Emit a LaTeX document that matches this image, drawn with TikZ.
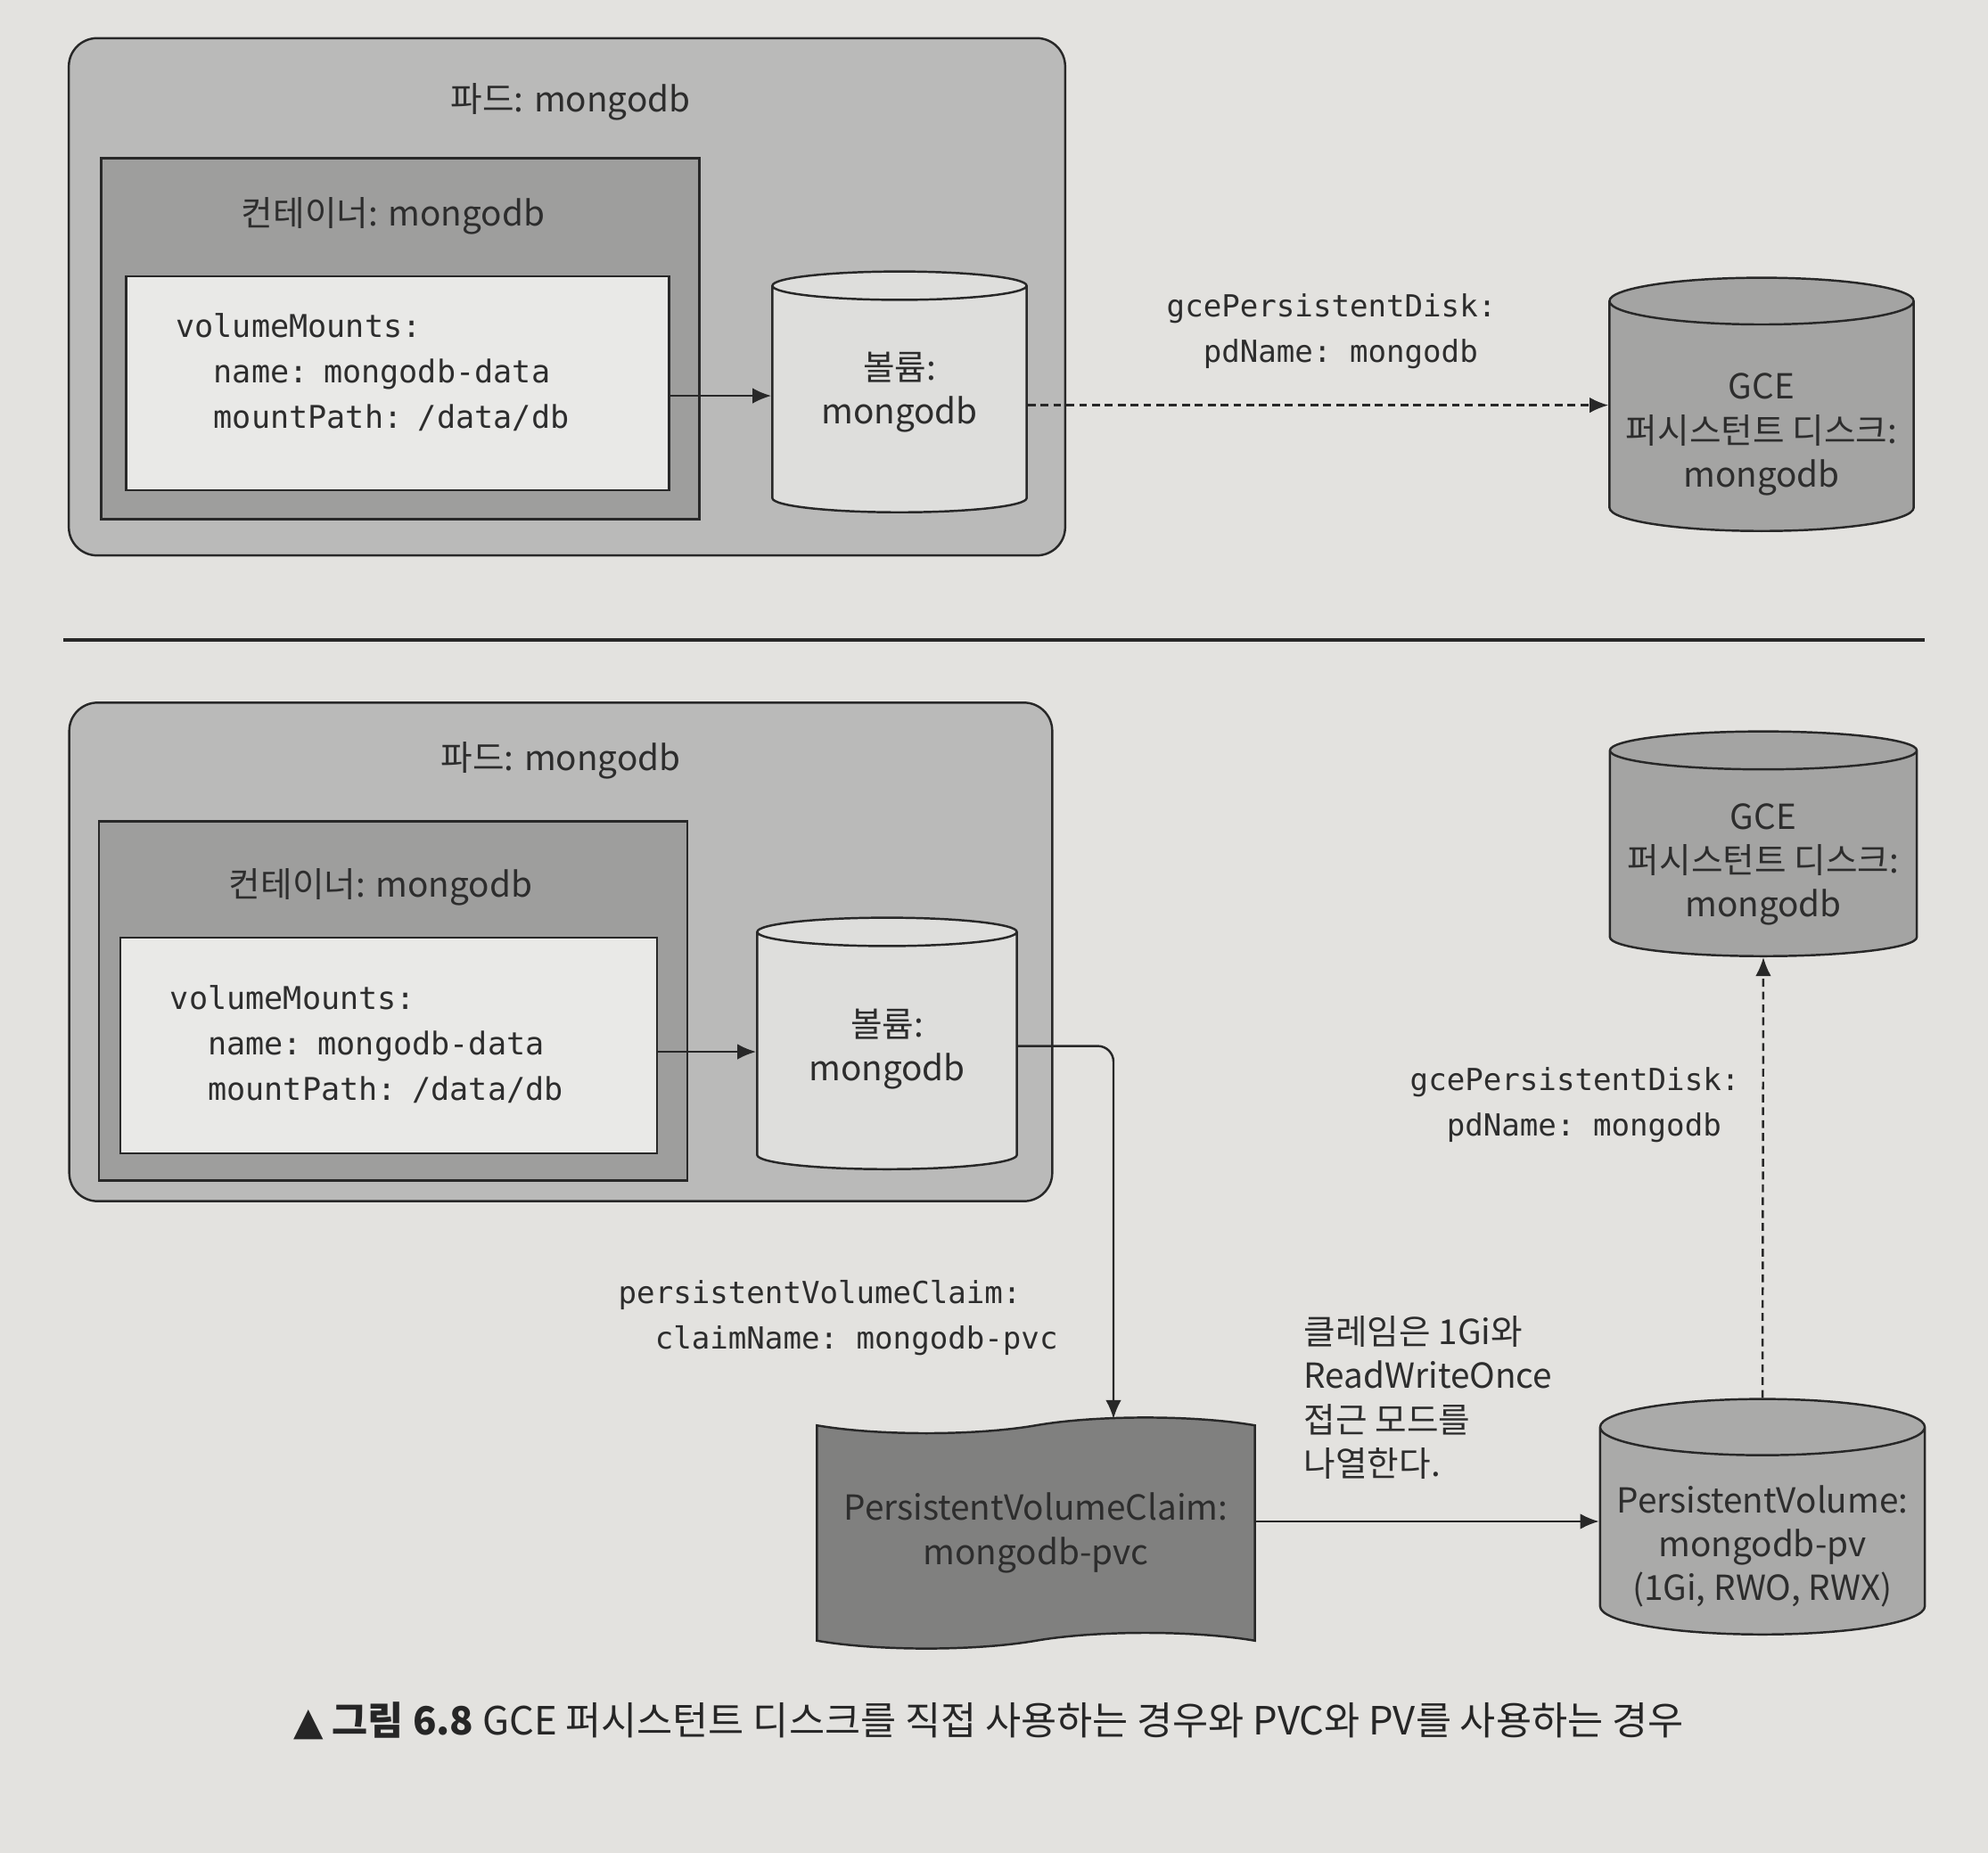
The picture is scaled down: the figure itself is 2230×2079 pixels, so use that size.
\documentclass[tikz,border=0pt]{standalone}
\usepackage{fontspec}
\setmainfont{Noto Sans CJK KR}
\setmonofont{DejaVu Sans Mono}
\newfontfamily\symfont{DejaVu Sans}
\usetikzlibrary{shapes.geometric,shapes.symbols,arrows.meta}

% text block moved up or down without changing the node size
\newcommand{\liftlines}[3]{\raisebox{#1}[\height][\depth]{\begin{tabular}{@{}#2@{}}#3\end{tabular}}}

\begin{document}
\begin{tikzpicture}[x=0.01cm,y=-0.01cm,>={Latex[length=6pt,width=5pt]},font=\fontsize{11}{14}\selectfont]

\definecolor{page_fill}{RGB}{227,226,223}
\definecolor{line_draw}{RGB}{40,40,40}
\definecolor{text_col}{RGB}{45,45,45}
\definecolor{pod_fill}{RGB}{186,186,185}
\definecolor{ctr_fill}{RGB}{158,158,157}
\definecolor{spec_fill}{RGB}{233,233,231}
\definecolor{vol_fill}{RGB}{222,222,220}
\definecolor{disk_fill}{RGB}{164,164,163}
\definecolor{pvc_fill}{RGB}{128,128,127}
\definecolor{pv_fill}{RGB}{170,170,169}

\tikzstyle{pod_style}=[rectangle, rounded corners=9pt, draw=line_draw, fill=pod_fill, line width=0.7pt]
\tikzstyle{ctr_style}=[rectangle, draw=line_draw, fill=ctr_fill, line width=0.7pt]
\tikzstyle{spec_style}=[rectangle, draw=line_draw, fill=spec_fill, line width=0.7pt, align=left, inner xsep=0.56cm, font=\ttfamily\fontsize{10}{14.5}\selectfont, text=text_col]
\tikzstyle{cyl_style}=[cylinder, shape border rotate=90, aspect=0.16, anchor=south, draw=line_draw, line width=0.7pt, text=text_col]
\tikzstyle{pvc_style}=[tape, tape bend height=5pt, draw=line_draw, fill=pvc_fill, line width=0.7pt, align=center, text=text_col]
\tikzstyle{title_style}=[text=text_col]
\tikzstyle{code_label}=[anchor=west, align=left, inner sep=0pt, font=\ttfamily\fontsize{9.7}{14.5}\selectfont, text=text_col]
\tikzstyle{edge_style}=[draw=line_draw, line width=0.7pt]
\tikzstyle{dash_style}=[edge_style, dash pattern=on 2.5pt off 1.6pt]

\useasboundingbox[fill=page_fill] (0,0) rectangle (2230,2079);

% direct use of the GCE disk
\node(podA) at (636,333) [pod_style, minimum width=11.17cm, minimum height=5.80cm] {};
\node(podAtitle) at (640,114) [title_style] {파드: mongodb};

\node(ctrA) at (449,380) [ctr_style, minimum width=6.71cm, minimum height=4.05cm] {};
\node(ctrAtitle) at (441,242) [title_style] {컨테이너: mongodb};

\node(specA) at (446,430) [spec_style, text width=4.97cm, minimum height=2.40cm] {\liftlines{3pt}{l}{volumeMounts:\\\phantom{xx}name: mongodb-data\\\phantom{xx}mountPath: /data/db}};

\node(volA) at (1009,576) [cyl_style, fill=vol_fill, minimum width=2.85cm, minimum height=2.70cm] {\liftlines{3pt}{c}{볼륨:\\mongodb}};

\node(gceA) at (1976,597) [cyl_style, fill=disk_fill, minimum width=3.41cm, minimum height=2.84cm] {\liftlines{-4.3pt}{c}{GCE\\퍼시스턴트 디스크:\\mongodb}};

\node(gceAlabel) at (1308,372) [code_label] {gcePersistentDisk:\\\phantom{xx}pdName: mongodb};

\draw[->,edge_style] ([yshift=-4pt]specA.east) -- ([yshift=-4pt]specA.east -| volA.west);
\draw[->,dash_style] ([yshift=5pt]gceA.west -| volA.east) -- ([yshift=5pt]gceA.west);

% separator
\coordinate(sepL) at (71,718);
\coordinate(sepR) at (2159,718);
\draw[edge_style, line width=0.9pt] (sepL) -- (sepR);

% through PVC and PV
\node(podB) at (629,1068) [pod_style, minimum width=11.02cm, minimum height=5.59cm] {};
\node(podBtitle) at (629,853) [title_style] {파드: mongodb};

\node(ctrB) at (441,1123) [ctr_style, minimum width=6.60cm, minimum height=4.03cm] {};
\node(ctrBtitle) at (427,995) [title_style] {컨테이너: mongodb};

\node(specB) at (436,1173) [spec_style, text width=4.90cm, minimum height=2.42cm] {\liftlines{0pt}{l}{volumeMounts:\\\phantom{xx}name: mongodb-data\\\phantom{xx}mountPath: /data/db}};

\node(volB) at (995,1313) [cyl_style, fill=vol_fill, minimum width=2.91cm, minimum height=2.82cm] {\liftlines{1.1pt}{c}{볼륨:\\mongodb}};

\node(pvc) at (1162,1720) [pvc_style, minimum width=4.91cm, minimum height=2.59cm] {PersistentVolumeClaim:\\mongodb-pvc};

\node(pv) at (1977,1835) [cyl_style, aspect=0.18, fill=pv_fill, minimum width=3.64cm, minimum height=2.64cm] {\liftlines{-3.7pt}{c}{PersistentVolume:\\mongodb-pv\\(1Gi, RWO, RWX)}};

\node(gceB) at (1978,1074) [cyl_style, aspect=0.13, fill=disk_fill, minimum width=3.44cm, minimum height=2.52cm] {\liftlines{-2.3pt}{c}{GCE\\퍼시스턴트 디스크:\\mongodb}};

\node(pvcLabel) at (693,1479) [code_label] {persistentVolumeClaim:\\\phantom{xx}claimName: mongodb-pvc};
\node(gceBlabel) at (1581,1240) [code_label] {gcePersistentDisk:\\\phantom{xx}pdName: mongodb};
\node(claimNote) at (1462,1568) [anchor=west, align=left, inner sep=0pt, text=text_col] {클레임은 1Gi와\\ReadWriteOnce\\접근 모드를\\나열한다.};

\coordinate(pvcDrop) at (1249,1592);
\draw[->,edge_style] ([yshift=-2pt]specB.east) -- ([yshift=-2pt]specB.east -| volB.west);
\draw[->,edge_style,rounded corners=5pt] ([yshift=2.5pt]volB.east) -| (pvcDrop);
\draw[->,edge_style] ([yshift=3.7pt]pvc.east) -- ([yshift=3.7pt]pvc.east -| pv.west);
\draw[->,dash_style] (pv.north) -- (gceB.south);

\node(caption) at (1109,1931) [text=black!85, font=\fontsize{12.4}{14}\selectfont] {{\symfont ▲} \textbf{그림 6.8} GCE 퍼시스턴트 디스크를 직접 사용하는 경우와 PVC와 PV를 사용하는 경우};

\end{tikzpicture}
\end{document}
